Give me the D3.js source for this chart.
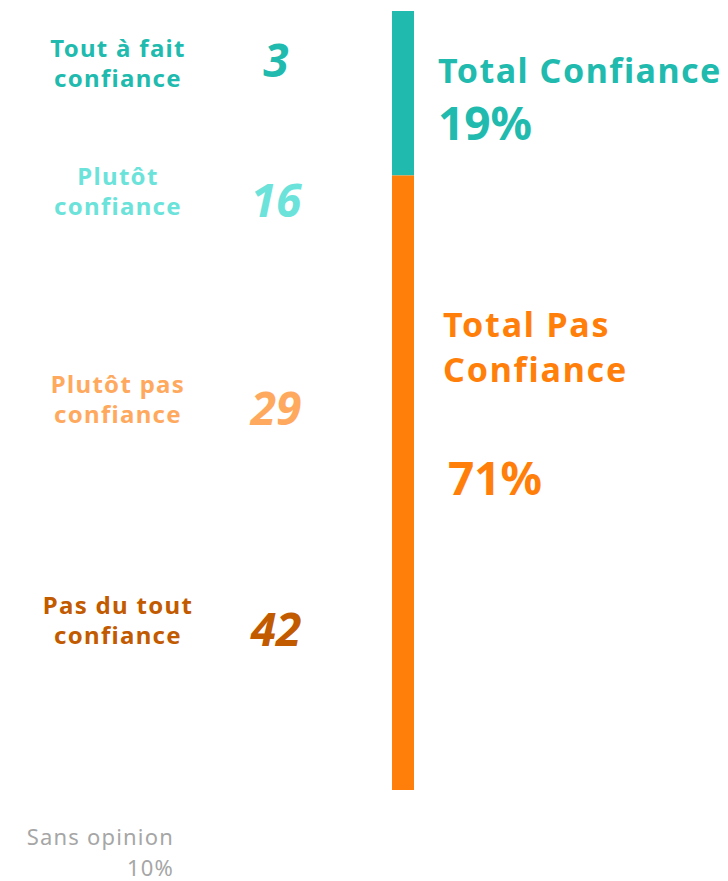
<!DOCTYPE html>
<html>
<head>
<meta charset="utf-8">
<script src="https://cdn.jsdelivr.net/npm/d3@7"></script>
<style>
  body { margin: 0; background: #fff; }
  text { font-family: "Noto Sans", sans-serif; }
</style>
</head>
<body>
<script>
var w = 728;  // width of the page
var h = 881;  // height of the page

// answers, top to bottom
var categories = [["Tout à fait", "confiance"], ["Plutôt", "confiance"], ["Plutôt pas", "confiance"], ["Pas du tout", "confiance"]];
var values = [3, 16, 29, 42];
var colors = ["#20bbae", "#6be3da", "#ffa95e", "#c25a00"];

// totals shown on the bar
var groups = ["Total Confiance", "Total Pas Confiance"];
var totals = [19, 71];
var groupColors = ["#20bbae", "#ff7f0a"];

var noOpinionLabel = "Sans opinion";
var noOpinion = 10;

// where each answer label sits (baseline of first line)
var labelY = [57, 185, 393, 614];

var svg = d3.select("body")
            .append("svg")
            .attr("width", w)
            .attr("height", h);

// vertical scale for the stacked bar
var yScale = d3.scaleLinear()
               .domain([0, d3.sum(totals)])
               .range([11, 790]);

var stacked = d3.cumsum(totals);

svg.selectAll("rect.seg")
    .data(totals)
    .enter()
    .append("rect")
    .attr("class", "seg")
    .attr("x", 392)
    .attr("width", 22)
    .attr("y", function(d, i) { return yScale(stacked[i] - d); })
    .attr("height", function(d) { return yScale(d) - yScale(0); })
    .attr("fill", function(d, i) { return groupColors[i]; });

// answer labels, two lines each
var labels = svg.selectAll("text.cat")
    .data(categories)
    .enter()
    .append("text")
    .attr("class", "cat")
    .attr("text-anchor", "middle")
    .attr("font-size", "24px")
    .attr("letter-spacing", "1.3px")
    .attr("font-weight", "bold")
    .attr("fill", function(d, i) { return colors[i]; })
    .attr("y", function(d, i) { return labelY[i]; });

labels.selectAll("tspan")
    .data(function(d) { return d; })
    .enter()
    .append("tspan")
    .attr("x", 118)
    .attr("dy", function(d, j) { return j === 0 ? 0 : 30; })
    .text(function(d) { return d; });

// answer values
svg.selectAll("text.val")
    .data(values)
    .enter()
    .append("text")
    .attr("class", "val")
    .attr("x", 276)
    .attr("y", function(d, i) { return i === 0 ? labelY[i] + 20 : labelY[i] + 32; })
    .attr("text-anchor", "middle")
    .attr("font-size", "46px")
    .attr("font-weight", "bold")
    .attr("font-style", "italic")
    .attr("fill", function(d, i) { return colors[i]; })
    .text(function(d) { return d; });

// totals on the right of the bar
svg.append("text")
    .attr("x", 438)
    .attr("y", 83)
    .attr("font-size", "34px")
    .attr("letter-spacing", "1.5px")
    .attr("font-weight", "bold")
    .attr("fill", groupColors[0])
    .text(groups[0]);

svg.append("text")
    .attr("x", 438)
    .attr("y", 140)
    .attr("font-size", "46px")
    .attr("font-weight", "bold")
    .attr("fill", groupColors[0])
    .text(totals[0] + "%");

svg.append("text")
    .attr("y", 337)
    .attr("font-size", "34px")
    .attr("letter-spacing", "1.8px")
    .attr("font-weight", "bold")
    .attr("fill", groupColors[1])
    .selectAll("tspan")
    .data(["Total Pas", "Confiance"])
    .enter()
    .append("tspan")
    .attr("x", 443)
    .attr("dy", function(d, j) { return j === 0 ? 0 : 45; })
    .text(function(d) { return d; });

svg.append("text")
    .attr("x", 448)
    .attr("y", 495)
    .attr("font-size", "46px")
    .attr("font-weight", "bold")
    .attr("fill", groupColors[1])
    .text(totals[1] + "%");

// no opinion, bottom left
svg.append("text")
    .attr("x", 174)
    .attr("y", 845)
    .attr("text-anchor", "end")
    .attr("font-size", "22px")
    .attr("letter-spacing", "1.2px")
    .attr("fill", "#a6a6a6")
    .text(noOpinionLabel);

svg.append("text")
    .attr("x", 174)
    .attr("y", 876)
    .attr("text-anchor", "end")
    .attr("font-size", "22px")
    .attr("letter-spacing", "1.2px")
    .attr("fill", "#a6a6a6")
    .text(noOpinion + "%");
</script>
</body>
</html>
